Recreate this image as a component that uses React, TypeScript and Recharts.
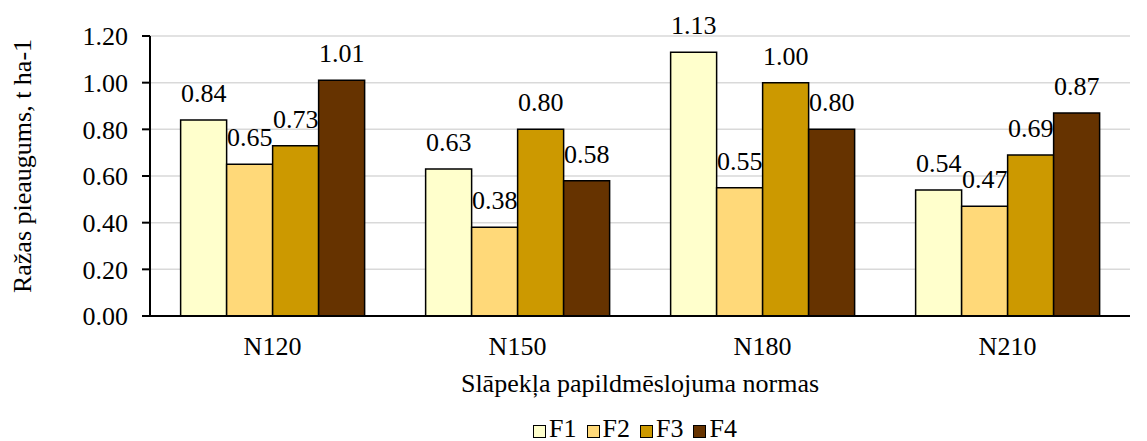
import React from "react";
import { BarChart, Bar, XAxis, YAxis, CartesianGrid, Legend, LabelList } from "recharts";

const categories = ["N120", "N150", "N180", "N210"];
const f1 = [0.84, 0.63, 1.13, 0.54];
const f2 = [0.65, 0.38, 0.55, 0.47];
const f3 = [0.73, 0.8, 1.0, 0.69];
const f4 = [1.01, 0.58, 0.8, 0.87];
const yTicks = [0, 0.2, 0.4, 0.6, 0.8, 1.0, 1.2];

const SERIES = [
  { key: "F1", color: "#FFFFCC" },
  { key: "F2", color: "#FFD979" },
  { key: "F3", color: "#CC9900" },
  { key: "F4", color: "#663300" },
];

const data = categories.map((name, i) => ({
  name,
  F1: f1[i],
  F2: f2[i],
  F3: f3[i],
  F4: f4[i],
}));

const FONT = "'Liberation Serif', 'Times New Roman', serif";
const FS = 26;

const LegendContent = () => (
  <div style={{ display: "flex", justifyContent: "center", fontFamily: FONT, fontSize: FS, color: "#000", lineHeight: "24px" }}>
    {SERIES.map((s) => (
      <span key={s.key} style={{ display: "flex", alignItems: "center", marginRight: 10 }}>
        <span
          style={{
            display: "inline-block",
            width: 11,
            height: 11,
            background: s.color,
            border: "1.5px solid #000",
            marginRight: 3,
            marginTop: 4,
          }}
        />
        {s.key}
      </span>
    ))}
  </div>
);

// axis titles drawn by hand so they sit where the original puts them
const XLabel = (props: any) => {
  const { viewBox } = props;
  return (
    <text
      x={viewBox.x + viewBox.width / 2}
      y={viewBox.y + 76}
      textAnchor="middle"
      fontFamily={FONT}
      fontSize={FS}
      fill="#000"
    >
      Slāpekļa papildmēslojuma normas
    </text>
  );
};

const YLabel = (props: any) => {
  const { viewBox } = props;
  const cy = viewBox.y + viewBox.height / 2 - 10;
  return (
    <text
      x={31}
      y={cy}
      transform={`rotate(-90, 31, ${cy})`}
      textAnchor="middle"
      fontFamily={FONT}
      fontSize={FS}
      fill="#000"
    >
      Ražas pieaugums, t ha-1
    </text>
  );
};

export default function App() {
  return (
    <div style={{ position: "absolute", left: 0, top: 0, background: "#fff", fontFamily: FONT }}>
      <BarChart
        width={1147}
        height={441}
        data={data}
        margin={{ top: 36, right: 17, left: 0, bottom: 0 }}
        barCategoryGap="12.5%"
        barGap={0}
      >
        <CartesianGrid vertical={false} stroke="#d9d9d9" strokeWidth={1.5} />
        <XAxis
          dataKey="name"
          height={90}
          tickLine={false}
          tickSize={0}
          tickMargin={21}
          axisLine={{ stroke: "#000", strokeWidth: 2 }}
          tick={{ fontFamily: FONT, fontSize: FS, fill: "#000" }}
          label={<XLabel />}
        />
        <YAxis
          width={150}
          domain={[0, 1.2]}
          ticks={yTicks}
          interval={0}
          tickFormatter={(v: number) => v.toFixed(2)}
          tickSize={8}
          tickMargin={14}
          axisLine={{ stroke: "#000", strokeWidth: 2 }}
          tickLine={{ stroke: "#000", strokeWidth: 2 }}
          tick={{ fontFamily: FONT, fontSize: FS, fill: "#000" }}
          label={<YLabel />}
        />
        <Legend
          verticalAlign="bottom"
          height={35}
          content={<LegendContent />}
          wrapperStyle={{ left: 150, width: 980, top: 417 }}
        />
        {SERIES.map((s) => (
          <Bar
            key={s.key}
            dataKey={s.key}
            fill={s.color}
            stroke="#000"
            strokeWidth={1.5}
            isAnimationActive={false}
          >
            <LabelList
              dataKey={s.key}
              position="top"
              offset={18}
              formatter={(v: any) => Number(v).toFixed(2)}
              style={{ fontFamily: FONT, fontSize: FS, fill: "#000" }}
            />
          </Bar>
        ))}
      </BarChart>
    </div>
  );
}
